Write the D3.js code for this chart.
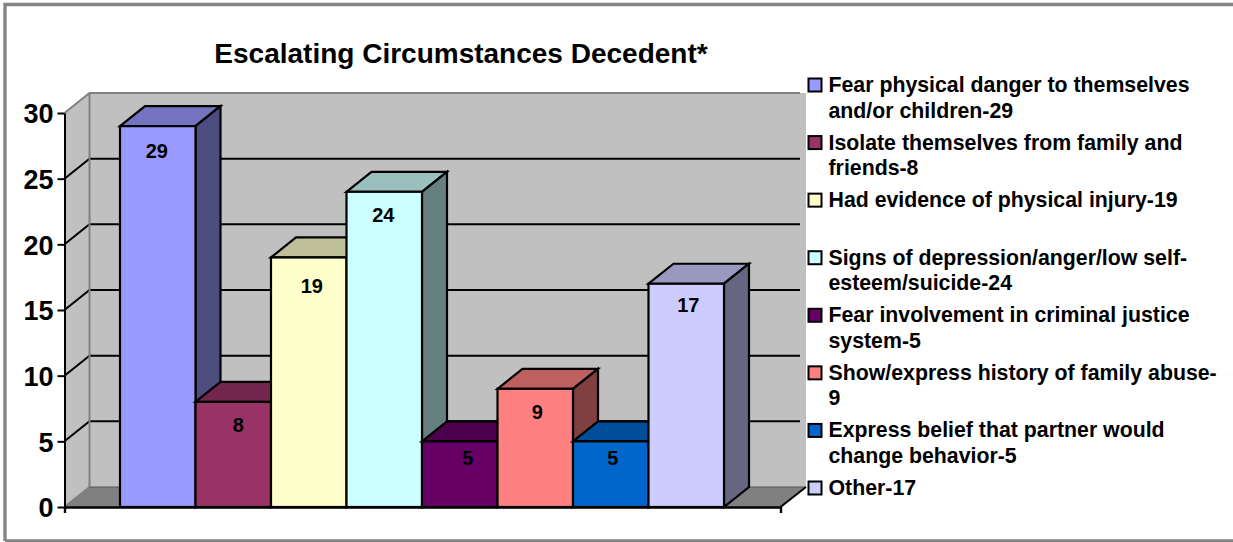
<!DOCTYPE html>
<html><head><meta charset="utf-8">
<script src="https://cdn.jsdelivr.net/npm/d3@7/dist/d3.min.js"></script>
<style>
html,body{margin:0;padding:0;background:#fff;overflow:hidden}
svg{display:block}
text{font-family:"Liberation Sans",Arial,sans-serif;font-weight:700;fill:#000}
</style></head><body>
<script>
const title = "Escalating Circumstances Decedent*";
const categories = ["Fear","Isolate","Injury","Depression","Criminal","Abuse","Belief","Other"];
const values = [29,8,19,24,5,9,5,17];
const colors = ["#9999FF","#993366","#FFFFCC","#CCFFFF","#660066","#FF8080","#0066CC","#CCCCFF"];
const legendLines = [
  ["Fear physical danger to themselves","and/or children-29"],
  ["Isolate themselves from family and","friends-8"],
  ["Had evidence of physical injury-19"],
  ["Signs of depression/anger/low self-","esteem/suicide-24"],
  ["Fear involvement in criminal justice","system-5"],
  ["Show/express history of family abuse-","9"],
  ["Express belief that partner would","change behavior-5"],
  ["Other-17"]
];
const yTicks = [0,5,10,15,20,25,30];

const W=1233,H=542;
const depthX=25, depthY=-20;
const x0=64.5, x1=780.5, wallRight=806;
const y = d3.scaleLinear().domain([0,30]).range([507,113]);
const x = d3.scaleBand().domain(categories).range([120,724]);
const svg = d3.select("body").append("svg").attr("width",W).attr("height",H);
const poly = pts => pts.map(p=>p.join(",")).join(" ");

// frame
svg.append("path").attr("d",`M5,541 V4.5 H${W} M5,541 H${W}`).attr("fill","none").attr("stroke","#848484").attr("stroke-width",3.4);

// title
svg.append("text").attr("x",461).attr("y",63).attr("text-anchor","middle").style("font-size","28px").text(title);

// walls
const backX=x0+depthX, topY=y(30)+depthY, baseY=y(0)+depthY;
svg.append("rect").attr("x",backX).attr("y",topY).attr("width",wallRight-backX).attr("height",baseY-topY).attr("fill","#C0C0C0");
svg.append("polygon").attr("points",poly([[x0,y(30)],[backX,topY],[backX,baseY],[x0,y(0)]])).attr("fill","#C0C0C0");
svg.append("polygon").attr("points",poly([[x0,y(0)],[backX,baseY],[wallRight,baseY],[x1,y(0)]])).attr("fill","#808080");

// gridlines
svg.append("g").selectAll("path").data(yTicks.slice(1,-1)).join("path")
  .attr("d",t=>`M${x0},${y(t)} L${backX},${y(t)+depthY} H800`)
  .attr("fill","none").attr("stroke","#000").attr("stroke-width",2);
// wall edges
svg.append("path").attr("d",`M${x0},${y(30)} L${backX},${topY} H800 M${backX},${topY} V${baseY} M${x0},${y(0)} L${backX},${baseY}`)
  .attr("fill","none").attr("stroke","#808080").attr("stroke-width",2);
svg.append("path").attr("d",`M${backX},${baseY} H${wallRight}`).attr("fill","none").attr("stroke","#555").attr("stroke-width",1);
svg.append("path").attr("d",`M${x1},${y(0)} L${wallRight},${baseY}`).attr("fill","none").attr("stroke","#000").attr("stroke-width",2);

// bars
const shade=(c,k)=>{const r=d3.rgb(c);return d3.rgb(r.r*k,r.g*k,r.b*k).formatHex();};
const bars = svg.append("g").selectAll("g").data(categories.map((c,i)=>({c,v:values[i],col:colors[i]}))).join("g")
  .attr("stroke","#000").attr("stroke-width",2.2).attr("stroke-linejoin","miter");
bars.append("polygon").attr("points",d=>{const a=x(d.c),b=a+x.bandwidth(),t=y(d.v);
  return poly([[a,t],[a+depthX,t+depthY],[b+depthX,t+depthY],[b,t]]);}).attr("fill",d=>shade(d.col,0.75));
bars.append("polygon").attr("points",d=>{const b=x(d.c)+x.bandwidth(),t=y(d.v);
  return poly([[b,t],[b+depthX,t+depthY],[b+depthX,y(0)+depthY],[b,y(0)]]);}).attr("fill",d=>shade(d.col,0.5));
bars.append("rect").attr("x",d=>x(d.c)).attr("y",d=>y(d.v)).attr("width",x.bandwidth()).attr("height",d=>y(0)-y(d.v)).attr("fill",d=>d.col);

// data labels: small per-bar nudges as the chart placed them
const labelDx=[-1,5,3,-1,8,2,2,2], labelDy=[32,30,36,30,24,30,24,28];
svg.append("g").selectAll("text").data(values).join("text")
  .attr("x",(d,i)=>x(categories[i])+x.bandwidth()/2+labelDx[i])
  .attr("y",(d,i)=>y(d)+labelDy[i])
  .attr("text-anchor","middle").style("font-size","20px").text(d=>d);

// y axis
const yAxis = svg.append("g").attr("transform",`translate(${x0},0)`)
  .call(d3.axisLeft(y).tickValues(yTicks).tickSize(7).tickPadding(4).tickSizeOuter(0));
yAxis.selectAll("path,line").attr("stroke","#000").attr("stroke-width",2);
yAxis.selectAll("text").style("font-size","27px").attr("fill","#000").attr("dy","0.36em");

// x axis
const xAxisScale = d3.scaleLinear().domain([0,1]).range([x0,x1]);
const xAxis = svg.append("g").attr("transform",`translate(0,${y(0)})`)
  .call(d3.axisBottom(xAxisScale).tickValues([0,1]).tickSize(6).tickSizeOuter(0).tickFormat(""));
xAxis.selectAll("path,line").attr("stroke","#000").attr("stroke-width",2.4);

// legend
const ly = d3.scalePoint().domain(categories).range([85,488]);
const leg = svg.append("g").selectAll("g").data(categories.map((c,i)=>({c,i}))).join("g")
  .attr("transform",d=>`translate(0,${ly(d.c)})`);
leg.append("rect").attr("x",808.5).attr("y",-6.5).attr("width",13).attr("height",13)
  .attr("fill",d=>colors[d.i]).attr("stroke","#000").attr("stroke-width",2);
leg.each(function(d){
  const g=d3.select(this);
  legendLines[d.i].forEach((l,k)=>g.append("text").attr("x",828.5).attr("y",7+k*25.5).style("font-size","21.3px").text(l));
});
</script>
</body></html>
